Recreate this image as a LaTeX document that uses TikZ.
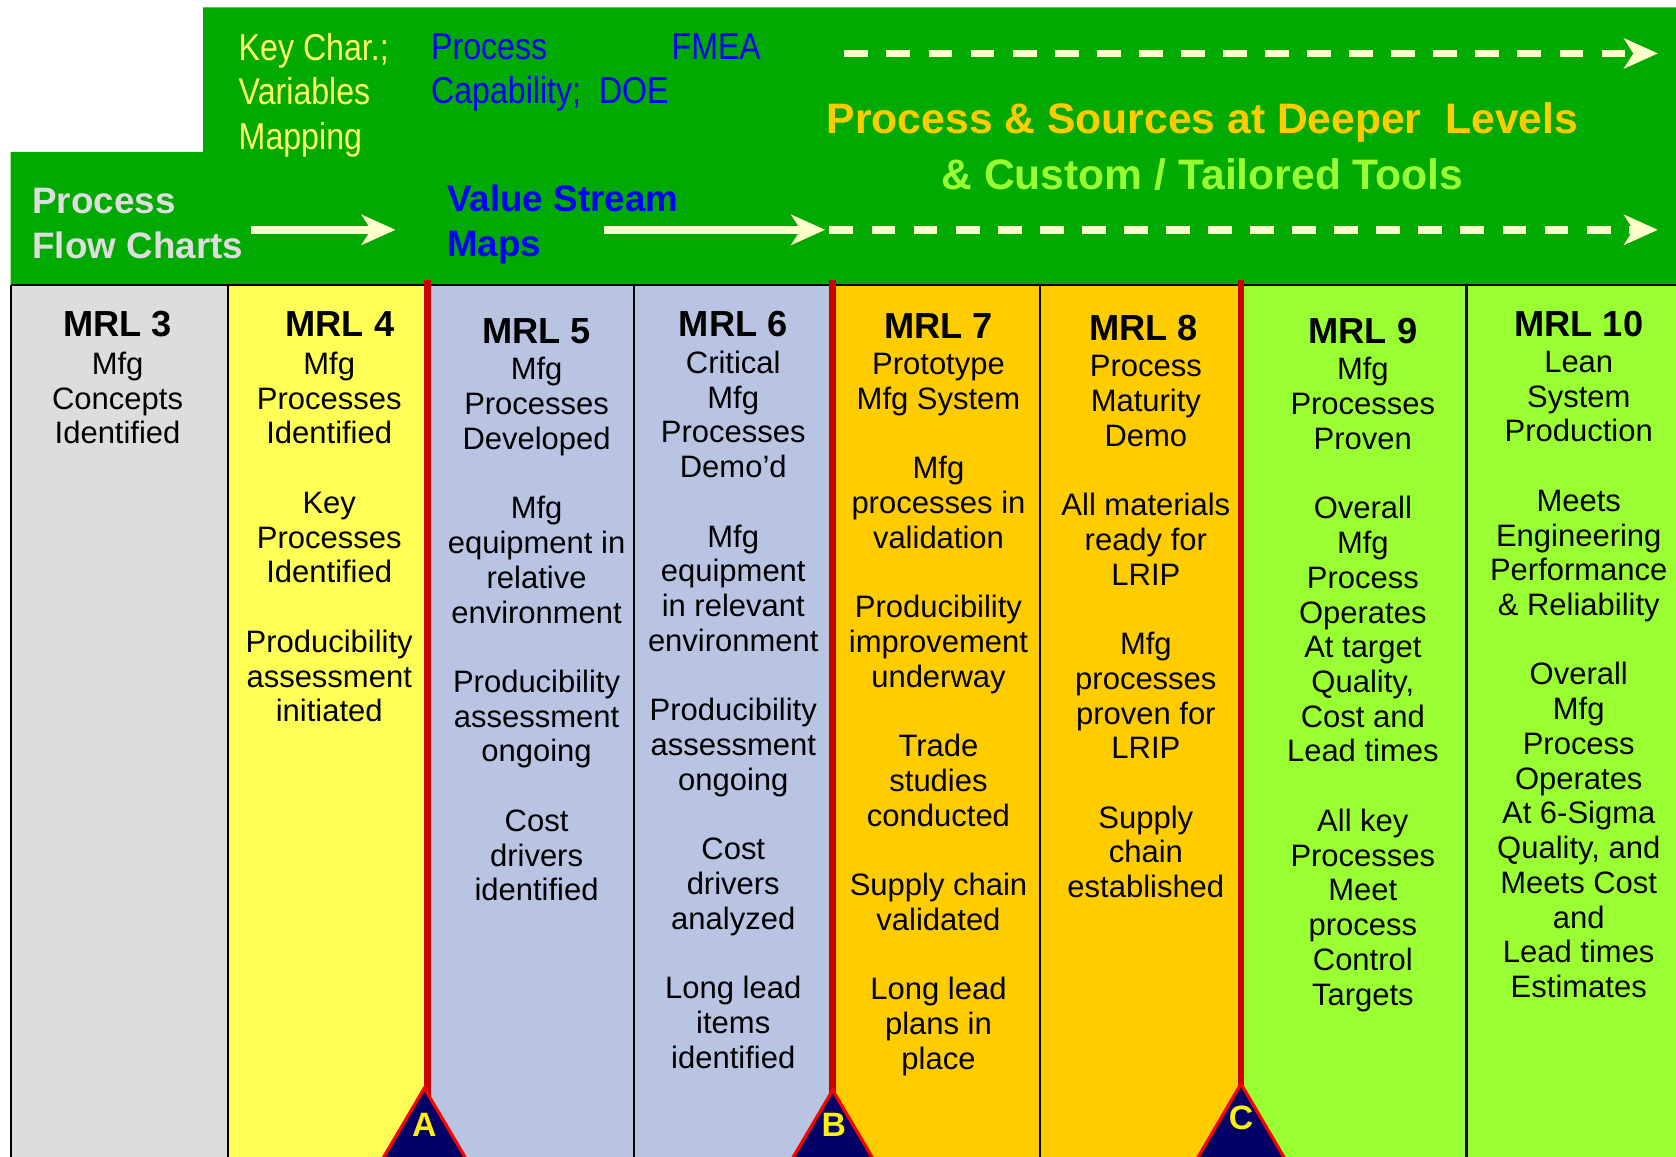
\documentclass[tikz,border=0pt]{standalone}
\usepackage{fontspec}
\setmainfont{Liberation Sans}
\newfontfamily\narrowfont[FakeStretch=0.86]{Liberation Sans}
\usetikzlibrary{arrows.meta, positioning}

\definecolor{mrlgreen}{HTML}{00AA00}
\definecolor{cream}{HTML}{FFFFCC}
\definecolor{keyyellow}{HTML}{FFFF66}
\definecolor{toolblue}{HTML}{0000FF}
\definecolor{gold}{HTML}{FFCC00}
\definecolor{lime}{HTML}{99FF33}
\definecolor{paleblue}{HTML}{B8C4E2}
\definecolor{lightgray}{HTML}{DDDDDD}
\definecolor{paleyellow}{HTML}{FFFF55}
\definecolor{gatered}{HTML}{CC0000}
\definecolor{navy}{HTML}{000066}

\newcommand\skipln{\\[\baselineskip]}

\tikzset{
  grid/.style={draw=black, line width=1.1pt},
  gate/.style={draw=gatered, line width=3.4pt},
  tri/.style={fill=navy, draw=red, line width=1.7pt, line join=miter},
  trilabel/.style={inner sep=0pt, text=yellow, font=\fontsize{18}{20}\selectfont\bfseries},
  hd/.style={inner sep=0pt, font=\fontsize{19.3}{22}\selectfont\bfseries},
  bd/.style={inner sep=0pt, anchor=north, align=center, font=\fontsize{16.5}{18.5}\selectfont},
  tool/.style={inner sep=0pt, anchor=north west, align=left, font=\narrowfont\fontsize{19.9}{23.6}\selectfont},
  stage/.style={inner sep=0pt, anchor=north west, align=left, font=\fontsize{19.6}{23.9}\selectfont\bfseries},
  big/.style={inner sep=0pt, font=\fontsize{22.7}{26}\selectfont\bfseries},
  flow/.style={draw=cream, line width=4pt, -{Stealth[length=18pt, width=16pt, inset=5pt]}},
  dflow/.style={flow, dash pattern=on 12.7pt off 9.7pt}
}

\begin{document}
\begin{tikzpicture}[x=0.02cm, y=-0.02cm]
\useasboundingbox (0,0) rectangle (1568,1082);
\clip (0,0) rectangle (1568,1082);

% columns
\foreach \a/\b/\c in {10/213/lightgray, 213/400/paleyellow, 400/593/paleblue, 593/778/paleblue,
  778/973/gold, 973/1160/gold, 1160/1372/lime, 1372/1600/lime}
  \fill[\c] (\a,267) rectangle (\b,1100);
\foreach \x in {10,213,400,593,778,973,1160,1372}
  \draw[grid] (\x,267) -- (\x,1100);

% green banner
\fill[mrlgreen] (190,7) -- (1600,7) -- (1600,267) -- (10,267) -- (10,142) -- (190,142) -- cycle;
\draw[grid] (10,267) -- (1600,267);

% gates
\draw[gate] (400,262) -- (400,1030);
\draw[gate] (779,262) -- (779,1030);
\draw[gate] (1161,262) -- (1161,1030);
\draw[tri] (397,1018) -- ++(-46,78) -- ++(92,0) -- cycle;
\draw[tri] (779,1020) -- ++(-46,78) -- ++(92,0) -- cycle;
\draw[tri] (1161,1014) -- ++(-48,82) -- ++(96,0) -- cycle;
\node[trilabel] (ga) at (397,1052) {A};
\node[trilabel] (gb) at (780,1052) {B};
\node[trilabel] (gc) at (1161,1046) {C};

% tools in the banner
\node[tool, text=keyyellow] (kc) at (223,31) {Key Char.;\\Variables\\Mapping};
\node[tool, text=toolblue] (pc) at (403,31) {Process\\Capability;\ \ DOE};
\node[tool, text=toolblue] (fmea) at (628,31) {FMEA};
\node[stage, text=lightgray] (pfc) at (30,176) {Process\\Flow Charts};
\node[stage, text=toolblue] (vsm) at (418,173) {Value Stream\\Maps};
\node[big, text=gold] (deep) at (1125,115) {Process \& Sources at Deeper\ \ Levels};
\node[big, text=lime] (tail) at (1125,163) {\& Custom / Tailored Tools};

\coordinate (f1) at (235,215);
\coordinate (f2) at (370,215);
\coordinate (f3) at (565,215);
\coordinate (f4) at (772,215);
\coordinate (f5) at (776,215);
\coordinate (f6) at (1551,215);
\coordinate (t1) at (790,50);
\coordinate (t2) at (1551,50);
\draw[flow] (f1) -- (f2);
\draw[flow] (f3) -- (f4);
\draw[dflow] (f5) -- (f6);
\draw[dflow] (t1) -- (t2);

% MRL columns
\node[hd] (h3) at (110,303) {MRL 3};
\node[bd] (b3) at (110,329) {Mfg\\Concepts\\Identified};
\node[hd] (h4) at (318,303) {MRL 4};
\node[bd] (b4) at (308,329) {Mfg\\Processes\\Identified\skipln Key\\Processes\\Identified\skipln
  Producibility\\assessment\\initiated};
\node[hd] (h5) at (502,310) {MRL 5};
\node[bd] (b5) at (502,334) {Mfg\\Processes\\Developed\skipln Mfg\\equipment in\\relative\\environment\skipln
  Producibility\\assessment\\ongoing\skipln Cost\\drivers\\identified};
\node[hd] (h6) at (686,303) {MRL 6};
\node[bd] (b6) at (686,328) {Critical\\Mfg\\Processes\\Demo’d\skipln Mfg\\equipment\\in relevant\\environment\skipln
  Producibility\\assessment\\ongoing\skipln Cost\\drivers\\analyzed\skipln Long lead\\items\\identified};
\node[hd] (h7) at (878,305) {MRL 7};
\node[bd] (b7) at (878,330) {Prototype\\Mfg System\skipln Mfg\\processes in\\validation\skipln
  Producibility\\improvement\\underway\skipln Trade\\studies\\conducted\skipln Supply chain\\validated\skipln
  Long lead\\plans in\\place};
\node[hd] (h8) at (1070,307) {MRL 8};
\node[bd] (b8) at (1072,332) {Process\\Maturity\\Demo\skipln All materials\\ready for\\LRIP\skipln
  Mfg\\processes\\proven for\\LRIP\skipln Supply\\chain\\established};
\node[hd] (h9) at (1275,310) {MRL 9};
\node[bd] (b9) at (1275,334) {Mfg\\Processes\\Proven\skipln Overall\\Mfg\\Process\\Operates\\At target\\Quality,\\Cost and\\Lead times\skipln
  All key\\Processes\\Meet\\process\\Control\\Targets};
\node[hd] (h10) at (1477,303) {MRL 10};
\node[bd] (b10) at (1477,328) {Lean\\System\\Production\skipln Meets\\Engineering\\Performance\\\& Reliability\skipln
  Overall\\Mfg\\Process\\Operates\\At 6-Sigma\\Quality, and\\Meets Cost\\and\\Lead times\\Estimates};
\end{tikzpicture}
\end{document}
